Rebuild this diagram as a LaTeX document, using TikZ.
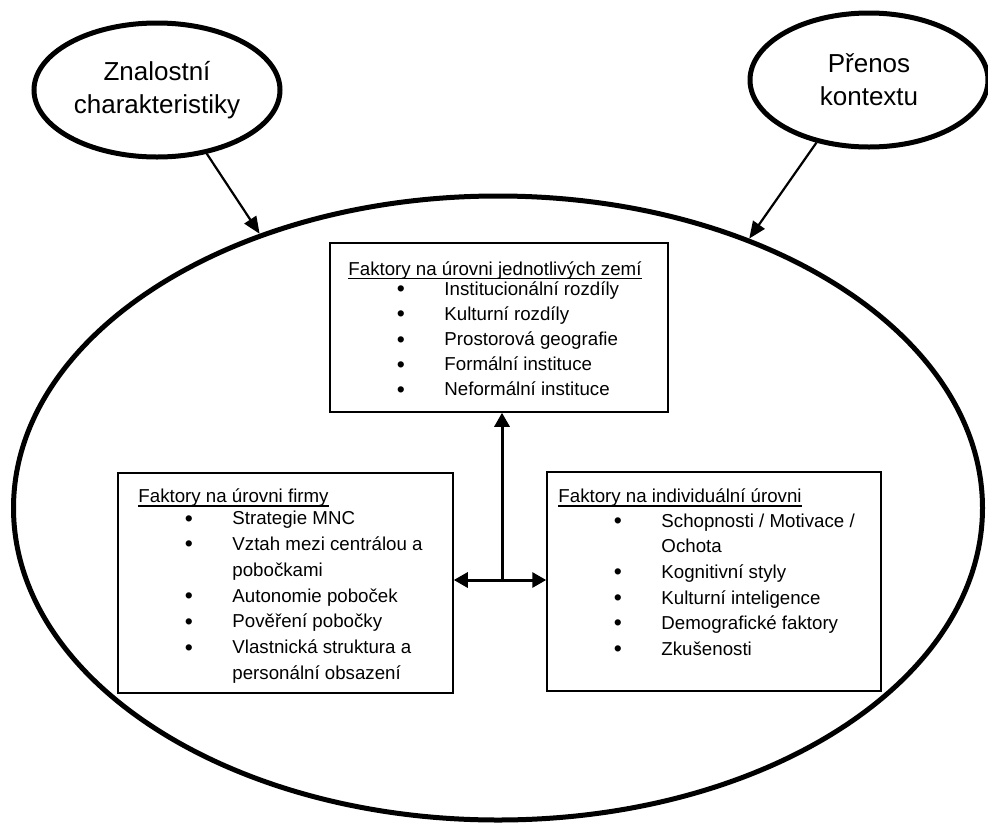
\documentclass[tikz,border=0pt]{standalone}
\usepackage{fontspec}
\setmainfont{Liberation Sans}
\usetikzlibrary{calc,shapes.geometric,arrows.meta}

\begin{document}
\begin{tikzpicture}[x=1pt,y=-1pt,
		oval/.style={draw,ellipse,line width=5pt,inner sep=0pt,align=center,font=\fontsize{26}{33}\selectfont},
		factorbox/.style={draw,rectangle,line width=1.5pt,inner sep=0pt},
		txt/.style={anchor=base west,inner sep=0pt,font=\fontsize{18.7}{25}\selectfont},
		link/.style={line width=2.2pt,-{Triangle[length=17pt,width=14pt]}},
		both/.style={line width=3pt,{Triangle[length=14pt,width=15pt]}-{Triangle[length=14pt,width=15pt]}}]
		\useasboundingbox (0,0) rectangle (988,825);
		\def\bx{67.5}
		\def\tx{115}
		\newcommand\li[2]{\makebox[#1pt][l]{\raisebox{-1.3pt}{\fontsize{23}{25}\selectfont\textbullet}}#2}
		\newcommand\ul[1]{\setbox0\hbox{#1}\rlap{\rule[-4pt]{\wd0}{1.4pt}}\box0}

		\node[oval,minimum width=969pt,minimum height=624pt] (main) at (498,508) {};
		\node[oval,minimum width=246pt,minimum height=134pt] (zn) at (157,90) {Znalostní\\charakteristiky};
		\node[oval,minimum width=238pt,minimum height=134pt] (pk) at (869,80) {Přenos\\kontextu};

		\draw[link] (zn.-52) -- (main.131);
		\draw[link] (pk.-130) -- (main.47);

		\node[factorbox,minimum width=338pt,minimum height=169pt] (land) at (499,327.5) {};
		\node[factorbox,minimum width=335pt,minimum height=220pt] (firm) at (285.5,583) {};
		\node[factorbox,minimum width=334pt,minimum height=219pt] (indiv) at (714,581.5) {};

		% country level
		\node[txt] (landtitle) at ($(land.north west)+(19,33)$) {\ul{Faktory na úrovni jednotlivých zemí}};
		\node[txt] (land1) at ($(land.north west)+(\bx,53)$) {\li{47.5}{Institucionální rozdíly}};
		\node[txt] (land2) at ($(land.north west)+(\bx,78)$) {\li{47.5}{Kulturní rozdíly}};
		\node[txt] (land3) at ($(land.north west)+(\bx,103.5)$) {\li{47.5}{Prostorová geografie}};
		\node[txt] (land4) at ($(land.north west)+(\bx,128.5)$) {\li{47.5}{Formální instituce}};
		\node[txt] (land5) at ($(land.north west)+(\bx,153.5)$) {\li{47.5}{Neformální instituce}};

		% firm level
		\node[txt] (firmtitle) at ($(firm.north west)+(21,30.4)$) {\ul{Faktory na úrovni firmy}};
		\node[txt] (firm1) at ($(firm.north west)+(\bx,52.5)$) {\li{47.5}{Strategie MNC}};
		\node[txt] (firm2) at ($(firm.north west)+(\bx,78.3)$) {\li{47.5}{Vztah mezi centrálou a}};
		\node[txt] (firm2b) at ($(firm.north west)+(\tx,104.1)$) {pobočkami};
		\node[txt] (firm3) at ($(firm.north west)+(\bx,129.9)$) {\li{47.5}{Autonomie poboček}};
		\node[txt] (firm4) at ($(firm.north west)+(\bx,155.7)$) {\li{47.5}{Pověření pobočky}};
		\node[txt] (firm5) at ($(firm.north west)+(\bx,181.5)$) {\li{47.5}{Vlastnická struktura a}};
		\node[txt] (firm5b) at ($(firm.north west)+(\tx,207.3)$) {personální obsazení};

		% individual level
		\node[txt] (indivtitle) at ($(indiv.north west)+(12,31.4)$) {\ul{Faktory na individuální úrovni}};
		\node[txt] (indiv1) at ($(indiv.north west)+(\bx,56)$) {\li{47.5}{Schopnosti / Motivace /}};
		\node[txt] (indiv1b) at ($(indiv.north west)+(\tx,81.6)$) {Ochota};
		\node[txt] (indiv2) at ($(indiv.north west)+(\bx,107.2)$) {\li{47.5}{Kognitivní styly}};
		\node[txt] (indiv3) at ($(indiv.north west)+(\bx,132.8)$) {\li{47.5}{Kulturní inteligence}};
		\node[txt] (indiv4) at ($(indiv.north west)+(\bx,158.4)$) {\li{47.5}{Demografické faktory}};
		\node[txt] (indiv5) at ($(indiv.north west)+(\bx,184)$) {\li{47.5}{Zkušenosti}};

		\coordinate (mid) at (502,580);
		\draw[both] (firm.east |- mid) -- (indiv.west |- mid);
		\draw[line width=3pt,-{Triangle[length=14pt,width=15pt]}] (mid) -- (mid |- land.south);
	\end{tikzpicture}
\end{document}
